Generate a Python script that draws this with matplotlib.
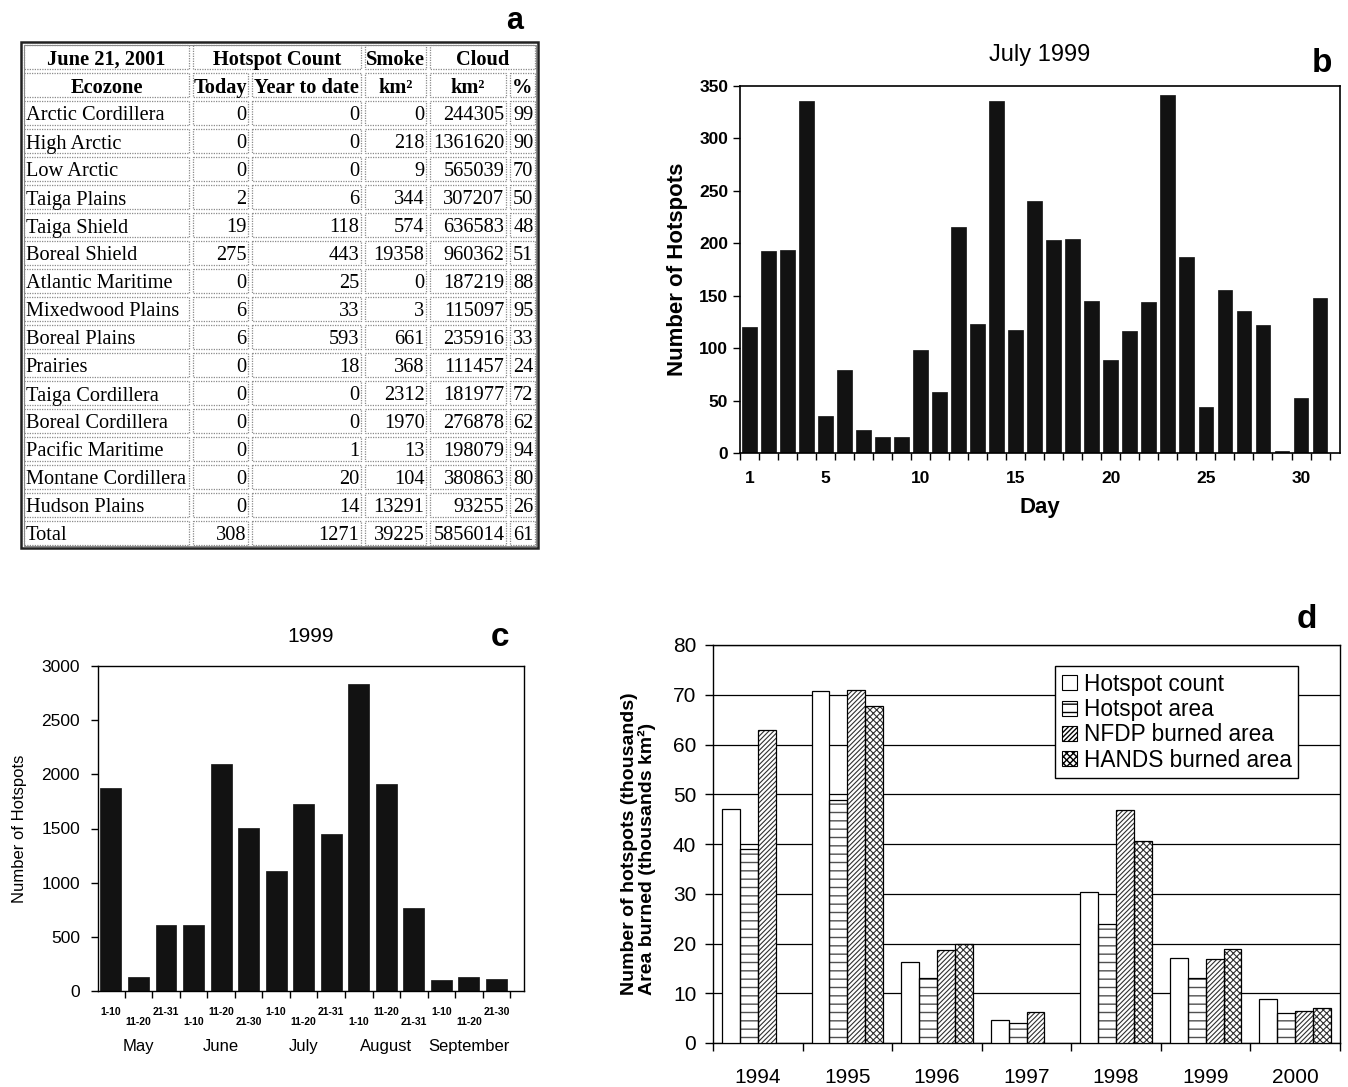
import numpy as np
import matplotlib
matplotlib.use("Agg")
import matplotlib.pyplot as plt
from matplotlib.patches import Rectangle

plt.rcParams['font.family'] = ['Liberation Sans', 'DejaVu Sans']

# ---------------- data ----------------
# (a) table
table_date = "June 21, 2001"
ecozones = ["Arctic Cordillera", "High Arctic", "Low Arctic", "Taiga Plains", "Taiga Shield",
            "Boreal Shield", "Atlantic Maritime", "Mixedwood Plains", "Boreal Plains", "Prairies",
            "Taiga Cordillera", "Boreal Cordillera", "Pacific Maritime", "Montane Cordillera",
            "Hudson Plains", "Total"]
hotspots_today = [0, 0, 0, 2, 19, 275, 0, 6, 6, 0, 0, 0, 0, 0, 0, 308]
hotspots_ytd = [0, 0, 0, 6, 118, 443, 25, 33, 593, 18, 0, 0, 1, 20, 14, 1271]
smoke_km2 = [0, 218, 9, 344, 574, 19358, 0, 3, 661, 368, 2312, 1970, 13, 104, 13291, 39225]
cloud_km2 = [244305, 1361620, 565039, 307207, 636583, 960362, 187219, 115097, 235916, 111457,
             181977, 276878, 198079, 380863, 93255, 5856014]
cloud_pct = [99, 90, 70, 50, 48, 51, 88, 95, 33, 24, 72, 62, 94, 80, 26, 61]

# (b) July 1999 daily hotspots
days = list(range(1, 32))
daily_hotspots = [120, 193, 194, 336, 35, 79, 22, 15, 15, 98, 58, 216, 123, 336, 117, 240,
                  203, 204, 145, 89, 116, 144, 341, 187, 44, 155, 135, 122, 2, 52, 148]
day_ticks = [1, 5, 10, 15, 20, 25, 30]

# (c) 1999 dekadal hotspots
dekads = ["1-10", "11-20", "21-31", "1-10", "11-20", "21-30", "1-10", "11-20", "21-31",
          "1-10", "11-20", "21-31", "1-10", "11-20", "21-30"]
months = ["May", "June", "July", "August", "September"]
dekad_hotspots = [1875, 125, 605, 605, 2095, 1505, 1105, 1725, 1450, 2830, 1910, 765, 100, 130, 113]

# (d) annual comparison
years = ["1994", "1995", "1996", "1997", "1998", "1999", "2000"]
hotspot_count = [47, 70.8, 16.2, 4.7, 30.4, 17.1, 8.9]
hotspot_area = [39, 48.9, 13.1, 4.0, 24, 13, 6.0]
nfdp_area = [63, 71, 18.6, 6.3, 46.8, 16.9, 6.4]
hands_area = [np.nan, 67.8, 19.8, np.nan, 40.6, 18.9, 7.1]
series_names = ["Hotspot count", "Hotspot area", "NFDP burned area", "HANDS burned area"]

# ---------------- figure ----------------
W, H = 1348, 1087
fig = plt.figure(figsize=(W / 100, H / 100), dpi=100)


def ax_px(l, t, r, b):
    return fig.add_axes([l / W, 1 - b / H, (r - l) / W, (b - t) / H])


BAR = '#121212'

# ---------- (a) table ----------
axa = ax_px(0, 0, W, H)
axa.set_xlim(0, W)
axa.set_ylim(H, 0)
axa.axis('off')

col_edges = [22, 191, 250, 363, 428, 508, 537]
row_top = 43.0
row_h = 28.0
n_rows = 2 + len(ecozones)
table_bottom = row_top + n_rows * row_h
serif = ['Liberation Serif', 'DejaVu Serif']
tfs = 14.7

axa.add_patch(Rectangle((col_edges[0] - 1, row_top - 1), col_edges[-1] - col_edges[0] + 2,
                        table_bottom - row_top + 2, fill=False, ec='#222222', lw=1.8))
axa.add_patch(Rectangle((col_edges[0] + 1.5, row_top + 1.5), col_edges[-1] - col_edges[0] - 3,
                        table_bottom - row_top - 3, fill=False, ec='#888888', lw=0.8))


def cell(c0, c1, r, txt, align, bold=False):
    x0 = col_edges[c0] + 2
    x1 = col_edges[c1] - 2
    y0 = row_top + r * row_h + 2
    y1 = row_top + (r + 1) * row_h - 2
    axa.add_patch(Rectangle((x0, y0), x1 - x0, y1 - y0, fill=False, ec='#8a8a8a',
                            lw=0.9, ls=(0, (1, 1))))
    yc = (y0 + y1) / 2 + 3
    fw = 'bold' if bold else 'normal'
    if align == 'left':
        axa.text(x0 + 1.5, yc, txt, ha='left', va='center', fontsize=tfs, family=serif, fontweight=fw)
    elif align == 'right':
        axa.text(x1 - 1.5, yc, txt, ha='right', va='center', fontsize=tfs, family=serif, fontweight=fw)
    else:
        axa.text((x0 + x1) / 2, yc, txt, ha='center', va='center', fontsize=tfs, family=serif,
                 fontweight=fw)


cell(0, 1, 0, table_date, 'center', True)
cell(1, 3, 0, "Hotspot Count", 'center', True)
cell(3, 4, 0, "Smoke", 'center', True)
cell(4, 6, 0, "Cloud", 'center', True)
for i, h in enumerate(["Ecozone", "Today", "Year to date", "km²", "km²", "%"]):
    cell(i, i + 1, 1, h, 'center', True)
for k, name in enumerate(ecozones):
    r = k + 2
    cell(0, 1, r, name, 'left')
    cell(1, 2, r, str(hotspots_today[k]), 'right')
    cell(2, 3, r, str(hotspots_ytd[k]), 'right')
    cell(3, 4, r, str(smoke_km2[k]), 'right')
    cell(4, 5, r, str(cloud_km2[k]), 'right')
    cell(5, 6, r, str(cloud_pct[k]), 'right')

axa.text(515, 21, "a", fontsize=22, fontweight='bold', ha='center', va='center')
axa.text(1322, 63, "b", fontsize=24, fontweight='bold', ha='center', va='center')
axa.text(500, 637, "c", fontsize=24, fontweight='bold', ha='center', va='center')
axa.text(1307, 620, "d", fontsize=24, fontweight='bold', ha='center', va='center')

# ---------- (b) ----------
axb = ax_px(740, 86, 1340, 453)
axb.bar(days, daily_hotspots, width=0.78, color=BAR, edgecolor=BAR, lw=0.5)
axb.set_xlim(0.62, 32.05)
axb.set_ylim(0, 350)
axb.set_yticks(np.arange(0, 351, 50))
axb.set_xticks(day_ticks)
axb.set_xticks(np.arange(0.5, 32, 1), minor=True)
axb.tick_params(axis='x', which='major', length=0, pad=13, labelsize=12.5)
axb.tick_params(axis='x', which='minor', length=5, direction='out', width=1)
axb.tick_params(axis='y', length=5, direction='out', width=1, labelsize=12.5)
for lab in axb.get_xticklabels() + axb.get_yticklabels():
    lab.set_fontweight('bold')
for s in axb.spines.values():
    s.set_linewidth(1.2)
axb.set_title("July 1999", fontsize=17, pad=18)
axb.set_xlabel("Day", fontsize=16, fontweight='bold', labelpad=8)
axb.set_ylabel("Number of Hotspots", fontsize=16, fontweight='bold', labelpad=8)

# ---------- (c) ----------
axc = ax_px(98, 666, 524, 991)
xc = np.arange(1, len(dekad_hotspots) + 1)
axc.bar(xc, dekad_hotspots, width=0.76, color=BAR, edgecolor=BAR, lw=0.5)
axc.set_xlim(0.53, 16.0)
axc.set_ylim(0, 3000)
axc.set_yticks(np.arange(0, 3001, 500))
axc.set_xticks([])
axc.set_xticks(np.arange(1.5, 16, 1), minor=True)
axc.tick_params(axis='x', which='minor', length=5, direction='out', width=1)
axc.tick_params(axis='y', length=5, direction='out', width=1, labelsize=12.5, pad=8)
axc.set_xticklabels([])
for s in axc.spines.values():
    s.set_linewidth(1.0)
axc.set_title("1999", fontsize=15, pad=17)
axc.set_ylabel("Number of Hotspots", fontsize=12, labelpad=10)
trans_c = axc.get_xaxis_transform()
for i, lab in enumerate(dekads):
    yoff = -0.066 if i % 2 == 0 else -0.096
    axc.text(xc[i], yoff, lab, transform=trans_c, ha='center', va='center',
             fontsize=7.5, fontweight='bold')
for j, m in enumerate(months):
    axc.text(xc[3 * j + 1], -0.172, m, transform=trans_c, ha='center', va='center', fontsize=12)

# ---------- (d) ----------
axd = ax_px(713, 645, 1340, 1043)
xd = np.arange(len(years))
bw = 0.2
hatches = [None, '--', '///////', 'xxxxx']
hatch_cols = ['black', '#505050', '#303030', '#303030']
hatch_lws = [0.7, 1.0, 0.8, 0.8]
data_d = [hotspot_count, hotspot_area, nfdp_area, hands_area]
for k, vals in enumerate(data_d):
    with plt.rc_context({'hatch.linewidth': hatch_lws[k]}):
        axd.bar(xd + (k - 1.5) * bw, vals, width=bw, color='white', hatch=hatches[k],
                edgecolor=hatch_cols[k], lw=0, zorder=3)
        axd.bar(xd + (k - 1.5) * bw, vals, width=bw, fill=False, edgecolor='black', lw=0.9,
                zorder=4)
        axd.bar([np.nan], [np.nan], color='white', hatch=hatches[k], edgecolor='black', lw=0.8,
                label=series_names[k])
axd.set_xlim(-0.5, 6.5)
axd.set_ylim(0, 80)
axd.set_yticks(np.arange(0, 81, 10))
axd.yaxis.grid(True, color='black', lw=0.9, zorder=0)
axd.set_axisbelow(True)
axd.set_xticks(xd)
axd.set_xticklabels(years)
axd.set_xticks(np.arange(-0.5, 7, 1), minor=True)
axd.tick_params(axis='x', which='major', length=0, pad=18, labelsize=15)
axd.tick_params(axis='x', which='minor', length=6, direction='out', width=1)
axd.tick_params(axis='y', length=6, direction='out', width=1, labelsize=15, pad=6)
for s in axd.spines.values():
    s.set_linewidth(1.0)
axd.set_ylabel("Number of hotspots (thousands)\nArea burned (thousands km²)", fontsize=14,
               fontweight='bold', multialignment='left', labelpad=12, linespacing=1.05)
leg = axd.legend(loc='upper left', bbox_to_anchor=(0.546, 0.947), fontsize=16.3, frameon=True,
                 fancybox=False, edgecolor='black', framealpha=1, handlelength=0.65,
                 handleheight=0.65, handletextpad=0.3, labelspacing=0.1, borderpad=0.3,
                 borderaxespad=0)
leg.get_frame().set_linewidth(1.0)

fig.savefig("out.png", dpi=100)
